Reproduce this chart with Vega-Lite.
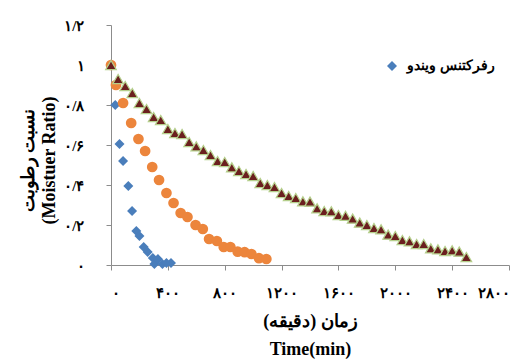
{
  "$schema": "https://vega.github.io/schema/vega-lite/v6.json",
  "width": 398,
  "height": 240,
  "autosize": "none",
  "padding": {"left": 111, "top": 25, "right": 17, "bottom": 97},
  "background": "white",
  "config": {"view": {"stroke": null}},
  "datasets": {
    "blue": [
      {"series": "رفرکتنس ویندو", "t": 0, "mr": 1.0},
      {"series": "رفرکتنس ویندو", "t": 30, "mr": 0.8},
      {"series": "رفرکتنس ویندو", "t": 60, "mr": 0.605},
      {"series": "رفرکتنس ویندو", "t": 85, "mr": 0.52},
      {"series": "رفرکتنس ویندو", "t": 122, "mr": 0.395},
      {"series": "رفرکتنس ویندو", "t": 148, "mr": 0.27},
      {"series": "رفرکتنس ویندو", "t": 178, "mr": 0.17},
      {"series": "رفرکتنس ویندو", "t": 200, "mr": 0.145},
      {"series": "رفرکتنس ویندو", "t": 230, "mr": 0.09},
      {"series": "رفرکتنس ویندو", "t": 258, "mr": 0.065},
      {"series": "رفرکتنس ویندو", "t": 294, "mr": 0.035},
      {"series": "رفرکتنس ویندو", "t": 305, "mr": 0.005},
      {"series": "رفرکتنس ویندو", "t": 330, "mr": 0.03},
      {"series": "رفرکتنس ویندو", "t": 362, "mr": 0.005},
      {"series": "رفرکتنس ویندو", "t": 390, "mr": 0.01},
      {"series": "رفرکتنس ویندو", "t": 422, "mr": 0.01}
    ],
    "orange": [
      {"series": "s2", "t": 0, "mr": 1.0},
      {"series": "s2", "t": 35, "mr": 0.9},
      {"series": "s2", "t": 85, "mr": 0.81},
      {"series": "s2", "t": 142, "mr": 0.71},
      {"series": "s2", "t": 193, "mr": 0.63},
      {"series": "s2", "t": 240, "mr": 0.57},
      {"series": "s2", "t": 290, "mr": 0.49},
      {"series": "s2", "t": 338, "mr": 0.425},
      {"series": "s2", "t": 390, "mr": 0.36},
      {"series": "s2", "t": 440, "mr": 0.31},
      {"series": "s2", "t": 490, "mr": 0.26},
      {"series": "s2", "t": 538, "mr": 0.24},
      {"series": "s2", "t": 595, "mr": 0.2},
      {"series": "s2", "t": 646, "mr": 0.18},
      {"series": "s2", "t": 690, "mr": 0.13},
      {"series": "s2", "t": 745, "mr": 0.12},
      {"series": "s2", "t": 793, "mr": 0.09},
      {"series": "s2", "t": 840, "mr": 0.09},
      {"series": "s2", "t": 891, "mr": 0.067},
      {"series": "s2", "t": 940, "mr": 0.064},
      {"series": "s2", "t": 988, "mr": 0.055},
      {"series": "s2", "t": 1041, "mr": 0.034},
      {"series": "s2", "t": 1093, "mr": 0.03}
    ],
    "tri": [
      {"series": "s3", "t": 0, "mr": 1.0},
      {"series": "s3", "t": 50, "mr": 0.93},
      {"series": "s3", "t": 100, "mr": 0.895},
      {"series": "s3", "t": 150, "mr": 0.86},
      {"series": "s3", "t": 200, "mr": 0.81},
      {"series": "s3", "t": 250, "mr": 0.78},
      {"series": "s3", "t": 300, "mr": 0.74},
      {"series": "s3", "t": 350, "mr": 0.725},
      {"series": "s3", "t": 400, "mr": 0.68},
      {"series": "s3", "t": 450, "mr": 0.66},
      {"series": "s3", "t": 500, "mr": 0.655},
      {"series": "s3", "t": 550, "mr": 0.615},
      {"series": "s3", "t": 600, "mr": 0.593},
      {"series": "s3", "t": 650, "mr": 0.575},
      {"series": "s3", "t": 700, "mr": 0.55},
      {"series": "s3", "t": 750, "mr": 0.52},
      {"series": "s3", "t": 800, "mr": 0.515},
      {"series": "s3", "t": 850, "mr": 0.488},
      {"series": "s3", "t": 900, "mr": 0.47},
      {"series": "s3", "t": 950, "mr": 0.455},
      {"series": "s3", "t": 1000, "mr": 0.445},
      {"series": "s3", "t": 1050, "mr": 0.41},
      {"series": "s3", "t": 1100, "mr": 0.4},
      {"series": "s3", "t": 1150, "mr": 0.39},
      {"series": "s3", "t": 1200, "mr": 0.36},
      {"series": "s3", "t": 1250, "mr": 0.345},
      {"series": "s3", "t": 1300, "mr": 0.335},
      {"series": "s3", "t": 1350, "mr": 0.318},
      {"series": "s3", "t": 1400, "mr": 0.317},
      {"series": "s3", "t": 1450, "mr": 0.283},
      {"series": "s3", "t": 1500, "mr": 0.27},
      {"series": "s3", "t": 1550, "mr": 0.268},
      {"series": "s3", "t": 1600, "mr": 0.25},
      {"series": "s3", "t": 1650, "mr": 0.246},
      {"series": "s3", "t": 1700, "mr": 0.232},
      {"series": "s3", "t": 1750, "mr": 0.212},
      {"series": "s3", "t": 1800, "mr": 0.2},
      {"series": "s3", "t": 1850, "mr": 0.185},
      {"series": "s3", "t": 1900, "mr": 0.178},
      {"series": "s3", "t": 1950, "mr": 0.152},
      {"series": "s3", "t": 2000, "mr": 0.145},
      {"series": "s3", "t": 2050, "mr": 0.125},
      {"series": "s3", "t": 2100, "mr": 0.118},
      {"series": "s3", "t": 2150, "mr": 0.105},
      {"series": "s3", "t": 2200, "mr": 0.105},
      {"series": "s3", "t": 2250, "mr": 0.083},
      {"series": "s3", "t": 2300, "mr": 0.078},
      {"series": "s3", "t": 2350, "mr": 0.07},
      {"series": "s3", "t": 2400, "mr": 0.073},
      {"series": "s3", "t": 2450, "mr": 0.067},
      {"series": "s3", "t": 2500, "mr": 0.04}
    ]
  },
  "encoding": {
    "x": {
      "field": "t",
      "type": "quantitative",
      "scale": {"domain": [0, 2800], "nice": false, "zero": true},
      "axis": {
        "values": [0, 400, 800, 1200, 1600, 2000, 2400, 2800],
        "format": "d",
        "labelExpr": "replace(replace(replace(replace(replace(replace(datum.label,regexp('0','g'),'۰'),regexp('1','g'),'۱'),regexp('2','g'),'۲'),regexp('4','g'),'۴'),regexp('6','g'),'۶'),regexp('8','g'),'۸')",
        "title": ["زمان (دقیقه)", "Time(min)"],
        "grid": false,
        "domainColor": "#8c8c8c",
        "tickColor": "#8c8c8c",
        "tickSize": 5,
        "labelPadding": 15,
        "labelFont": "Liberation Serif",
        "labelFontWeight": "bold",
        "labelFontSize": 15,
        "labelColor": "#000",
        "titleFont": "Liberation Serif",
        "titleFontWeight": "bold",
        "titleFontSize": 18,
        "titleColor": "#000",
        "titlePadding": 12,
        "titleLineHeight": 28
      }
    },
    "y": {
      "field": "mr",
      "type": "quantitative",
      "scale": {"domain": [0, 1.2], "nice": false},
      "axis": {
        "values": [0, 0.2, 0.4, 0.6, 0.8, 1, 1.2],
        "format": "~g",
        "labelExpr": "replace(replace(replace(replace(replace(replace(replace(datum.label,'.','/'),regexp('0','g'),'۰'),regexp('1','g'),'۱'),regexp('2','g'),'۲'),regexp('4','g'),'۴'),regexp('6','g'),'۶'),regexp('8','g'),'۸')",
        "title": ["نسبت رطوبت", "(Moistuer Ratio)"],
        "grid": false,
        "domainColor": "#8c8c8c",
        "tickColor": "#8c8c8c",
        "tickSize": 5,
        "labelPadding": 22,
        "labelFont": "Liberation Serif",
        "labelFontWeight": "bold",
        "labelFontSize": 15,
        "labelColor": "#000",
        "titleFont": "Liberation Serif",
        "titleFontWeight": "bold",
        "titleFontSize": 18,
        "titleColor": "#000",
        "titlePadding": 5,
        "titleLineHeight": 21,
        "titleY": 135
      }
    }
  },
  "layer": [
    {
      "data": {"name": "blue"},
      "mark": {"type": "point", "shape": "diamond", "filled": true, "size": 100, "opacity": 1},
      "encoding": {
        "color": {
          "field": "series",
          "type": "nominal",
          "scale": {"domain": ["رفرکتنس ویندو"], "range": ["#4A7EBB"]},
          "legend": {
            "title": null,
            "orient": "none",
            "legendX": 274,
            "legendY": 34,
            "symbolType": "diamond",
            "symbolSize": 100,
            "labelFont": "Liberation Serif",
            "labelFontWeight": "bold",
            "labelFontSize": 14,
            "labelColor": "#000",
            "labelOffset": 8
          }
        }
      }
    },
    {
      "data": {"name": "orange"},
      "mark": {"type": "point", "shape": "circle", "filled": true, "size": 115, "color": "#EC853C", "opacity": 1}
    },
    {
      "data": {"name": "tri"},
      "mark": {"type": "point", "shape": "triangle-up", "filled": true, "size": 110, "color": "#6B1F1F", "stroke": "#B5CF8C", "strokeWidth": 1.3, "opacity": 1}
    }
  ]
}
